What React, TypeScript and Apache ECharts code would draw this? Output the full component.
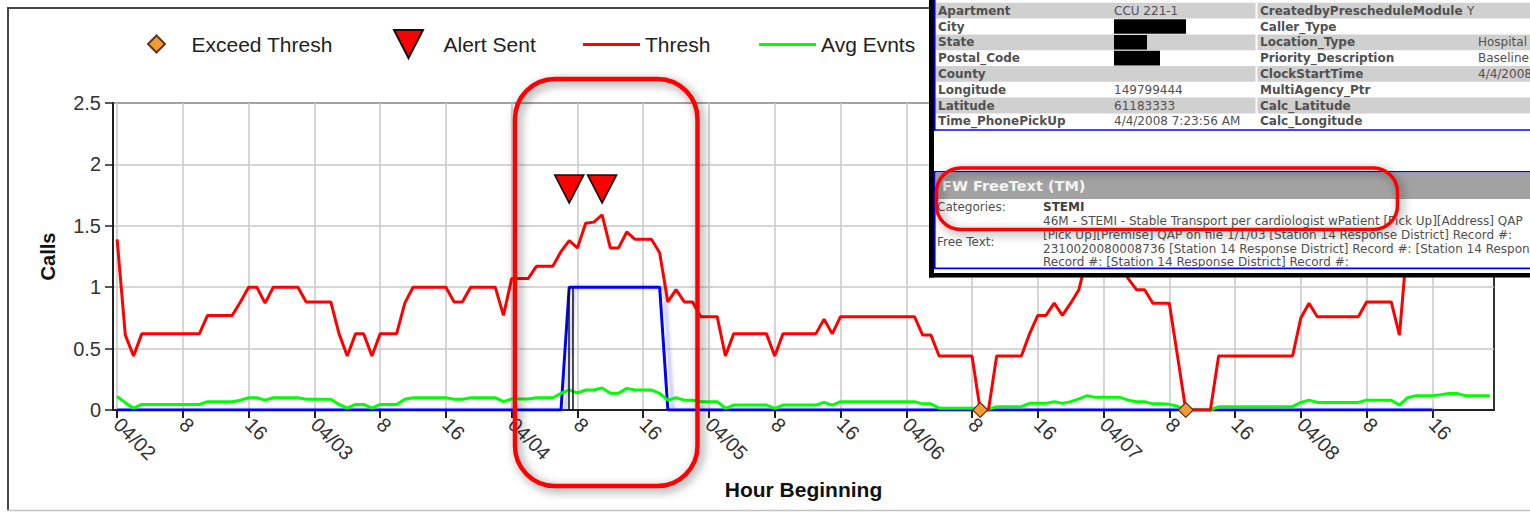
import React, { useEffect, useRef } from "react";
import * as echarts from "echarts";

// ---------- data ----------
const dayLabels = ["04/02", "04/03", "04/04", "04/05", "04/06", "04/07", "04/08"];
const tickHours = [0, 8, 16, 24, 32, 40, 48, 56, 64, 72, 80, 88, 96, 104, 112, 120, 128, 136, 144, 152, 160];
const yTicks = [0, 0.5, 1, 1.5, 2, 2.5];

// hourly values, index = hours since 04/02 00:00
const threshValues = [
  1.39, 0.61, 0.44, 0.62, 0.62, 0.62, 0.62, 0.62, 0.62, 0.62, 0.62,
  0.77, 0.77, 0.77, 0.77, 0.88, 1.0, 1.0, 0.87, 1.0, 1.0, 1.0, 1.0,
  0.88, 0.88, 0.88, 0.88, 0.62, 0.44, 0.62, 0.62, 0.44, 0.62, 0.62, 0.62,
  0.87, 1.0, 1.0, 1.0, 1.0, 1.0, 0.88, 0.88, 1.0, 1.0, 1.0, 1.0, 0.77,
  1.07, 1.07, 1.07, 1.17, 1.17, 1.17, 1.29, 1.38, 1.32, 1.52, 1.53, 1.59,
  1.32, 1.32, 1.45, 1.39, 1.39, 1.39, 1.28, 0.88, 0.98, 0.88, 0.88, 0.76,
  0.76, 0.76, 0.44, 0.62, 0.62, 0.62, 0.62, 0.62, 0.44, 0.62, 0.62, 0.62,
  0.62, 0.62, 0.74, 0.62, 0.76, 0.76, 0.76, 0.76, 0.76, 0.76, 0.76, 0.76,
  0.76, 0.76, 0.61, 0.61, 0.44, 0.44, 0.44, 0.44, 0.44, 0, 0, 0.44,
  0.44, 0.44, 0.44, 0.62, 0.77, 0.77, 0.87, 0.77, 0.87, 0.98, 1.25, 1.3,
  1.35, 1.3, 1.2, 1.07, 0.98, 0.98, 0.87, 0.87, 0.87, 0.44, 0, 0,
  0, 0, 0.44, 0.44, 0.44, 0.44, 0.44, 0.44, 0.44, 0.44, 0.44, 0.44,
  0.75, 0.87, 0.76, 0.76, 0.76, 0.76, 0.76, 0.76, 0.88, 0.88, 0.88, 0.88,
  0.61, 1.4,
];

const avgValues = [
  0.11, 0.06, 0.015, 0.045, 0.045, 0.045, 0.045, 0.045, 0.045, 0.045, 0.045,
  0.068, 0.068, 0.068, 0.068, 0.08, 0.1, 0.1, 0.08, 0.1, 0.1, 0.1, 0.1,
  0.087, 0.087, 0.087, 0.087, 0.045, 0.015, 0.045, 0.045, 0.015, 0.045, 0.045, 0.045,
  0.087, 0.1, 0.1, 0.1, 0.1, 0.1, 0.087, 0.087, 0.1, 0.1, 0.1, 0.1, 0.068,
  0.09, 0.09, 0.09, 0.1, 0.1, 0.1, 0.136, 0.163, 0.14, 0.163, 0.163, 0.18,
  0.136, 0.136, 0.176, 0.163, 0.163, 0.163, 0.136, 0.08, 0.1, 0.08, 0.08, 0.068,
  0.068, 0.068, 0.014, 0.04, 0.04, 0.04, 0.04, 0.04, 0.014, 0.04, 0.04, 0.04,
  0.04, 0.04, 0.062, 0.04, 0.068, 0.068, 0.068, 0.068, 0.068, 0.068, 0.068, 0.068,
  0.068, 0.068, 0.05, 0.05, 0.015, 0.015, 0.015, 0.015, 0.015, 0.005, 0.005, 0.027,
  0.027, 0.027, 0.027, 0.054, 0.054, 0.054, 0.068, 0.054, 0.068, 0.09, 0.117, 0.103,
  0.103, 0.103, 0.103, 0.08, 0.068, 0.068, 0.05, 0.05, 0.046, 0.03, 0, 0,
  0, 0, 0.027, 0.027, 0.027, 0.027, 0.027, 0.027, 0.027, 0.027, 0.027, 0.027,
  0.062, 0.08, 0.062, 0.062, 0.062, 0.062, 0.062, 0.062, 0.08, 0.08, 0.08, 0.08,
  0.04, 0.1, 0.117, 0.117, 0.117, 0.125, 0.135, 0.135, 0.117, 0.117, 0.117, 0.117,
];

const callValues = [
  0, 0, 0, 0, 0, 0, 0, 0, 0, 0, 0, 0,
  0, 0, 0, 0, 0, 0, 0, 0, 0, 0, 0, 0,
  0, 0, 0, 0, 0, 0, 0, 0, 0, 0, 0, 0,
  0, 0, 0, 0, 0, 0, 0, 0, 0, 0, 0, 0,
  0, 0, 0, 0, 0, 0, 0, 1, 1, 1, 1, 1,
  1, 1, 1, 1, 1, 1, 1, 0, 0, 0, 0, 0,
  0, 0, 0, 0, 0, 0, 0, 0, 0, 0, 0, 0,
  0, 0, 0, 0, 0, 0, 0, 0, 0, 0, 0, 0,
  0, 0, 0, 0, 0, 0, 0, 0, 0, 0, 0, 0,
  0, 0, 0, 0, 0, 0, 0, 0, 0, 0, 0, 0,
  0, 0, 0, 0, 0, 0, 0, 0, 0, 0, 0, 0,
  0, 0, 0, 0, 0, 0, 0, 0, 0, 0, 0, 0,
  0, 0, 0, 0, 0, 0, 0, 0, 0, 0, 0, 0,
  0, 0, 0, 0, 0,
];

const callEventHours = [54.95, 55.4];
const alertHours = [55, 59];
const alertLevels = [1.8, 1.8];
const exceedHours = [105, 130];
const exceedLevels = [0, 0];

// overlay (record screenshot) texts
const tableLeftLabels = ["Apartment", "City", "State", "Postal_Code", "County", "Longitude", "Latitude", "Time_PhonePickUp"];
const tableLeftValues = ["CCU 221-1", "", "", "", "", "149799444", "61183333", "4/4/2008 7:23:56 AM"];
const tableRightLabels = ["CreatedbyPrescheduleModule", "Caller_Type", "Location_Type", "Priority_Description", "ClockStartTime", "MultiAgency_Ptr", "Calc_Latitude", "Calc_Longitude"];
const tableRightValues = ["Y", "", "Hospital", "Baseline", "4/4/2008", "", "", ""];
const redactedWidths = [0, 72, 33, 46, 0, 0, 0, 0];
const freeTextHeader = "FW FreeText (TM)";
const freeTextCategory = "STEMI";
const freeTextLines = [
  "46M - STEMI - Stable Transport per cardiologist wPatient [Pick Up][Address] QAP",
  "[Pick Up][Premise] QAP on file 1/1/03 [Station 14 Response District] Record #:",
  "2310020080008736 [Station 14 Response District] Record #: [Station 14 Response District]",
  "Record #: [Station 14 Response District] Record #:",
];

// ---------- styling helpers ----------
const CHART_FONT = "Liberation Sans";
const TABLE_FONT = "DejaVu Sans";
const DIAMOND = "path://M8,0L16,8L8,16L0,8Z";
const TRIANGLE = "path://M0,0L29,0L14.5,28Z";
const OZ = 100;

function rectEl(x: number, y: number, w: number, h: number, style: any, z = OZ, r = 0) {
  return { type: "rect", z, silent: true, shape: { x, y, width: w, height: h, r }, style };
}
function textEl(x: number, y: number, t: string, opts: any = {}) {
  return {
    type: "text",
    z: OZ + 3,
    silent: true,
    x,
    y,
    style: {
      text: t,
      fill: opts.fill || "#4a4a4a",
      fontSize: opts.size || 12,
      fontFamily: TABLE_FONT,
      fontWeight: opts.bold ? "bold" : "normal",
      align: "left",
      verticalAlign: "middle",
    },
  };
}

function buildGraphics() {
  const g: any[] = [];
  // outer frame of the chart picture
  g.push({ type: "line", z: 1, silent: true, shape: { x1: 8, y1: 7, x2: 8, y2: 511 }, style: { stroke: "#444", lineWidth: 2 } });
  g.push({ type: "line", z: 1, silent: true, shape: { x1: 7, y1: 8, x2: 930, y2: 8 }, style: { stroke: "#444", lineWidth: 2 } });
  g.push({ type: "line", z: 1, silent: true, shape: { x1: 7, y1: 510.5, x2: 1530, y2: 510.5 }, style: { stroke: "#c4c4c4", lineWidth: 1.5 } });

  // big annotation round rectangle
  g.push({
    type: "rect", z: 90, silent: true,
    shape: { x: 515, y: 79, width: 182.5, height: 407, r: 40 },
    style: { fill: "none", stroke: "#ff0000", lineWidth: 4.5, shadowBlur: 10, shadowColor: "rgba(0,0,0,0.5)", shadowOffsetX: 3, shadowOffsetY: 3 },
  });

  // overlay panel
  g.push(rectEl(929, 0, 601, 277, { fill: "#ffffff" }));
  const rowTop = 2.8;
  const rowH = 15.8;
  for (let i = 0; i < tableLeftLabels.length; i++) {
    if (i % 2 === 0) g.push(rectEl(935.5, rowTop + i * rowH, 594.5, rowH, { fill: "#d0d0d0" }, OZ + 1));
  }
  g.push(rectEl(1255.5, rowTop, 2, rowH * 8, { fill: "#ffffff" }, OZ + 1));
  g.push(rectEl(934, 0, 1.6, 130.5, { fill: "#0000ff" }, OZ + 2));
  g.push(rectEl(934, 129.2, 596, 1.6, { fill: "#0000ff" }, OZ + 2));
  for (let i = 0; i < tableLeftLabels.length; i++) {
    const cy = rowTop + i * rowH + rowH / 2;
    g.push(textEl(938, cy, tableLeftLabels[i], { bold: true, fill: "#505050" }));
    if (tableLeftValues[i]) g.push(textEl(1114, cy, tableLeftValues[i], { fill: "#505050" }));
    if (redactedWidths[i] > 0) g.push(rectEl(1114, rowTop + i * rowH + 0.6, redactedWidths[i], rowH - 1.2, { fill: "#000000" }, OZ + 4));
    g.push(textEl(1260, cy, tableRightLabels[i], { bold: true, fill: "#505050" }));
    if (tableRightValues[i]) g.push(textEl(tableRightValues[i] === "Y" ? 1467 : 1478, cy, tableRightValues[i], { fill: "#505050" }));
  }

  // free text panel
  g.push(rectEl(934.8, 171.8, 600, 96.6, { fill: "#ffffff", stroke: "#0000ff", lineWidth: 1.6 }, OZ + 1));
  g.push(rectEl(935.6, 172.6, 595, 26.4, { fill: "#a2a2a2" }, OZ + 2));
  g.push(textEl(942, 186, freeTextHeader, { bold: true, size: 14.5, fill: "#f4f4f4" }));
  g.push(textEl(937, 207, "Categories:", { size: 12, fill: "#505050" }));
  g.push(textEl(1043, 207, freeTextCategory, { size: 12, bold: true, fill: "#404040" }));
  g.push(textEl(937, 241.5, "Free Text:", { size: 12, fill: "#505050" }));
  const lineYs = [221, 234.5, 248.5, 262];
  freeTextLines.forEach((t, i) => g.push(textEl(1043, lineYs[i], t, { size: 12, fill: "#505050" })));

  // small annotation round rectangle
  g.push({
    type: "rect", z: OZ + 8, silent: true,
    shape: { x: 936.5, y: 168, width: 461, height: 61.5, r: 24 },
    style: { fill: "none", stroke: "#ff0000", lineWidth: 3.5, shadowBlur: 10, shadowColor: "rgba(0,0,0,0.5)", shadowOffsetX: 3, shadowOffsetY: 3 },
  });

  // black frame of the panel
  g.push(rectEl(929, 0, 5, 277.5, { fill: "#000000" }, OZ + 9));
  g.push(rectEl(929, 273, 601, 4.5, { fill: "#000000" }, OZ + 9));
  return g;
}

export default function App() {
  const ref = useRef<HTMLDivElement>(null);

  useEffect(() => {
    if (!ref.current) return;
    const chart = echarts.init(ref.current, undefined, { renderer: "svg" });

    const legendText = { fontSize: 21, color: "#222", fontFamily: CHART_FONT };

    const option: any = {
      animation: false,
      backgroundColor: "#ffffff",
      grid: { left: 113, right: 36, top: 103, bottom: 102, show: true, borderColor: "#333", borderWidth: 2, outerBoundsMode: "none", containLabel: false },
      legend: [
        { left: 147, top: 33.5, padding: 0, itemWidth: 60, itemHeight: 17, selectedMode: false, data: [{ name: "Exceed Thresh", icon: DIAMOND }], textStyle: legendText },
        { left: 393, top: 29, padding: 0, itemWidth: 60, itemHeight: 28, selectedMode: false, data: [{ name: "Alert Sent", icon: TRIANGLE }], textStyle: legendText },
        { left: 583, top: 34, padding: 0, itemWidth: 57, itemHeight: 3, selectedMode: false, data: [{ name: "Thresh", icon: "rect" }], textStyle: legendText },
        { left: 759, top: 34, padding: 0, itemWidth: 57, itemHeight: 3, selectedMode: false, data: [{ name: "Avg Evnts", icon: "rect" }], textStyle: legendText },
      ],
      xAxis: {
        type: "value",
        min: -0.5,
        max: 167.5,
        name: "Hour Beginning",
        nameLocation: "middle",
        nameGap: 69,
        nameMoveOverlap: false,
        nameTextStyle: { fontSize: 21, fontWeight: "bold", color: "#111", fontFamily: CHART_FONT },
        axisLine: { show: true, onZero: false, lineStyle: { color: "#222", width: 2 } },
        axisTick: { show: true, length: 8, customValues: tickHours, lineStyle: { color: "#222", width: 2 } },
        axisLabel: {
          customValues: tickHours,
          rotate: -45,
          margin: 11,
          fontSize: 20,
          color: "#333",
          fontFamily: CHART_FONT,
          formatter: (v: number) => (v % 24 === 0 ? dayLabels[v / 24] : String(v % 24)),
        },
        splitLine: { show: true, lineStyle: { color: "#c8c8c8", width: 1.5 } },
      },
      yAxis: {
        type: "value",
        min: 0,
        max: 2.5,
        interval: 0.5,
        name: "Calls",
        nameLocation: "middle",
        nameGap: 55,
        nameMoveOverlap: false,
        nameTextStyle: { fontSize: 20, fontWeight: "bold", color: "#111", fontFamily: CHART_FONT },
        axisLine: { show: true, onZero: false, lineStyle: { color: "#222", width: 2 } },
        axisTick: { show: true, length: 8, lineStyle: { color: "#222", width: 1.5 } },
        axisLabel: { fontSize: 20, color: "#333", margin: 12, fontFamily: CHART_FONT, formatter: (v: number) => (yTicks.includes(v) ? String(v) : "") },
        splitLine: { show: true, lineStyle: { color: "#c8c8c8", width: 1.5 } },
      },
      series: [
        {
          name: "Calls",
          type: "line",
          z: 2,
          symbol: "none",
          data: callValues.map((v, i) => [i, v]),
          lineStyle: { color: "#0000ff", width: 3, shadowColor: "rgba(70,70,255,0.35)", shadowBlur: 3, shadowOffsetX: 5 },
          itemStyle: { color: "#0000ff" },
          markLine: {
            silent: true,
            symbol: ["none", "none"],
            label: { show: false },
            lineStyle: { color: "#111", width: 1.5, type: "solid" },
            data: callEventHours.map((h) => [{ coord: [h, 0] }, { coord: [h, 1] }]),
          },
        },
        {
          name: "Avg Evnts",
          type: "line",
          z: 3,
          symbol: "none",
          data: avgValues.map((v, i) => [i, v]),
          lineStyle: { color: "#00ff00", width: 3 },
          itemStyle: { color: "#00ff00" },
        },
        {
          name: "Thresh",
          type: "line",
          z: 4,
          symbol: "none",
          data: threshValues.map((v, i) => [i, v]),
          lineStyle: { color: "#ff0000", width: 3 },
          itemStyle: { color: "#ff0000" },
        },
        {
          name: "Exceed Thresh",
          type: "scatter",
          z: 6,
          symbol: DIAMOND,
          symbolSize: 15,
          data: exceedHours.map((h, i) => [h, exceedLevels[i]]),
          itemStyle: { color: "#f39a36", borderColor: "#5a3a1a", borderWidth: 1.2, opacity: 1 },
        },
        {
          name: "Alert Sent",
          type: "scatter",
          z: 6,
          symbol: TRIANGLE,
          symbolSize: [29, 28],
          data: alertHours.map((h, i) => [h, alertLevels[i]]),
          itemStyle: { color: "#ff0000", borderColor: "#111", borderWidth: 1.6, opacity: 1 },
        },
      ],
      graphic: { elements: buildGraphics() },
    };

    chart.setOption(option);
    return () => chart.dispose();
  }, []);

  return (
    <div
      ref={ref}
      style={{ position: "fixed", left: 0, top: 0, width: 1530, height: 512, background: "#fff" }}
    />
  );
}
